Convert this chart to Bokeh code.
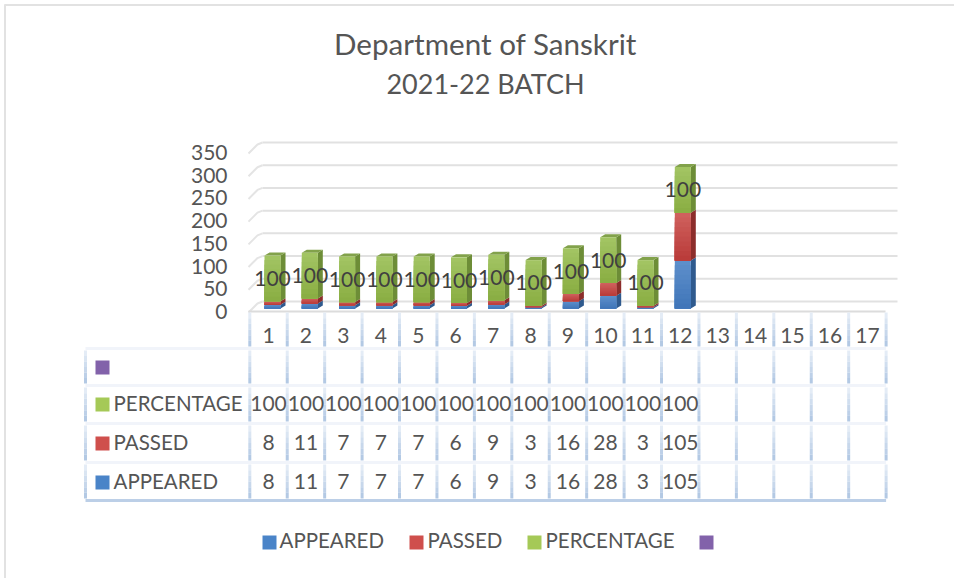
from bokeh.plotting import figure
from bokeh.models import ColumnDataSource
from bokeh.core.properties import value
from bokeh.embed import file_html
from bokeh.resources import INLINE

title_lines = ["Department of Sanskrit", "2021-22 BATCH"]
title_sizes = ["29.6px", "27px"]
categories = list(range(1, 18))
appeared = [8, 11, 7, 7, 7, 6, 9, 3, 16, 28, 3, 105]
passed = [8, 11, 7, 7, 7, 6, 9, 3, 16, 28, 3, 105]
percentage = [100] * 12
y_ticks = [0, 50, 100, 150, 200, 250, 300, 350]
row_names = ["APPEARED", "PASSED", "PERCENTAGE", ""]
legend_names = ["APPEARED", "PASSED", "PERCENTAGE", ""]

# page-pixel geometry of the frame
W, H = 954, 578
X0, Y0 = 272.0, 308.0
DX, DY = 37.3, 0.4565


def X(px):
    return 1 + (px - X0) / DX


def Y(py):
    return (Y0 - py) / DY


p = figure(width=W, height=H, output_backend="svg", toolbar_location=None,
           x_range=(X(0), X(W)), y_range=(Y(H), Y(0)),
           min_border=0, min_border_left=0, min_border_right=0,
           min_border_top=0, min_border_bottom=0,
           x_axis_location=None, y_axis_location=None, outline_line_color=None)
p.grid.visible = False
p.background_fill_color = "white"
p.border_fill_color = "white"

FONT = value("Lato")
TEXT = "#555555"
FS = "21px"
FS_UP = "20.5px"


def seg(xs0, ys0, xs1, ys1, color, width):
    p.segment(xs0, ys0, xs1, ys1, line_color=color, line_width=width)


def lerp(a, b, t):
    ca = [int(a[i:i + 2], 16) for i in (1, 3, 5)]
    cb = [int(b[i:i + 2], 16) for i in (1, 3, 5)]
    return "#%02x%02x%02x" % tuple(round(u + (v - u) * t) for u, v in zip(ca, cb))


# chart border (top and left only are visible in the reference)
seg([X(4)], [Y(4.5)], [X(954)], [Y(4.5)], "#e2e2e2", 2)
seg([X(4.5)], [Y(4)], [X(4.5)], [Y(578)], "#e2e2e2", 2)

# back-plane gridlines with their side-wall diagonals
GS = 0.4543
for t in y_ticks:
    by = 301 - GS * t
    seg([X(262)], [Y(by)], [X(897)], [Y(by)], "#e1e1e1", 2)
    p.line([X(248), X(253), X(257), X(262)],
           [Y(by + 11), Y(by + 6), Y(by + 2), Y(by)], line_color="#e4e4e4", line_width=2)

# floor edge
seg([X(248)], [Y(311)], [X(885)], [Y(311)], "#dcdcdc", 2)

# bars
BW = 16.0
SD, SU = 5.0, 3.0
ramps = [("#5f90cc", "#3f75b8", "#2f5a8e", "#3f6ca5"),
         ("#d0625f", "#b93a38", "#8c2d2b", "#a83e3c"),
         ("#a3c564", "#89ad42", "#6d8d37", "#82a24b")]
N = 10
q = dict(l=[], r=[], t=[], b=[], c=[])
for i, vals in enumerate(zip(appeared, passed, percentage)):
    cx = i + 1
    hw = BW / 2 / DX
    base = 0
    for v, (top, bot, side, cap) in zip(vals, ramps):
        for k in range(N):
            q["l"].append(cx - hw)
            q["r"].append(cx + hw)
            q["t"].append(base + v * (1 - k / N))
            q["b"].append(base)
            q["c"].append(lerp(top, bot, (k + .5) / N))
        dx, dy = SD / DX, SU / DY
        p.patch([cx + hw, cx + hw + dx, cx + hw + dx, cx + hw],
                [base, base + dy, base + v + dy, base + v], fill_color=side, line_color=None)
        base += v
    dx, dy = SD / DX, SU / DY
    p.patch([cx - hw, cx - hw + dx, cx + hw + dx, cx + hw],
            [base, base + dy, base + dy, base], fill_color=ramps[2][3], line_color=None)
p.quad(left="l", right="r", top="t", bottom="b", fill_color="c", line_color=None,
       source=ColumnDataSource(q))

# data labels
lab_y = [a + b + c / 2 for a, b, c in zip(appeared, passed, percentage)]
p.text([i + 1 for i in range(12)], lab_y, text=[str(v) for v in percentage],
       text_font=FONT, text_font_size=FS, text_color="#404040",
       text_align="center", text_baseline="middle")

# value axis labels
p.text([X(227)] * len(y_ticks), [Y(311 - GS * t) for t in y_ticks], text=[str(t) for t in y_ticks],
       text_font=FONT, text_font_size=FS, text_color=TEXT, text_align="right", text_baseline="middle")

# data table
LEFT, STEP = 249.3, 37.43
rows = [348, 385, 423, 462, 500]
vx = [LEFT + STEP * k for k in range(len(categories) + 1)]


def grad_v(px, y0, y1, c0, c1, n=6):
    for k in range(n):
        seg([X(px)], [Y(y0 + (y1 - y0) * k / n)], [X(px)], [Y(y0 + (y1 - y0) * (k + 1) / n)],
            lerp(c0, c1, (k + .5) / n), 3)


PALE, BLUE = "#e9eff8", "#aec6e2"
for vxp in vx:
    grad_v(vxp, 312, 346, PALE, BLUE)
    for a, b in zip(rows[:-1], rows[1:]):
        grad_v(vxp, a + 2, b - 2, PALE, BLUE)
for a, b in zip(rows[:-1], rows[1:]):
    grad_v(85, a + 2, b - 2, PALE, BLUE)
for r in rows[:-1]:
    seg([X(85)], [Y(r)], [X(vx[-1])], [Y(r)], "#f1f4fa", 3)
seg([X(85)], [Y(rows[-1])], [X(vx[-1])], [Y(rows[-1])], "#bccfe7", 3)

centers = [LEFT + STEP * (c - .5) for c in categories]
p.text([X(c) for c in centers], [Y(335)] * len(centers), text=[str(c) for c in categories],
       text_font=FONT, text_font_size=FS, text_color=TEXT, text_align="center", text_baseline="middle")

row_y = [481, 442, 403, 366]
swatches = ["#4a84c8", "#cf4f4c", "#a5c957", "#8262aa"]
table_rows = [appeared, passed, percentage]
for vals, ry in zip(table_rows, row_y):
    p.text([X(c) for c in centers[:len(vals)]], [Y(ry)] * len(vals), text=[str(v) for v in vals],
           text_font=FONT, text_font_size=FS, text_color=TEXT, text_align="center", text_baseline="middle")


def swatch(px, py, color):
    p.quad(left=[X(px)], right=[X(px + 14)], top=[Y(py - 7)], bottom=[Y(py + 7)],
           fill_color=color, line_color=None)


for name, ry, col in zip(row_names, row_y, swatches):
    swatch(95, ry + 1 if ry != 366 else 367, col)
    if name:
        p.text([X(113)], [Y(ry - 1)], text=[name], text_font=FONT, text_font_size=FS_UP, text_color=TEXT,
               text_align="left", text_baseline="middle")

# legend
leg_sw = [262, 409, 527, 699]
leg_tx = [279, 427, 545]
for sx, col in zip(leg_sw, swatches):
    swatch(sx, 542, col)
for tx, name in zip(leg_tx, legend_names):
    p.text([X(tx)], [Y(539.5)], text=[name], text_font=FONT, text_font_size=FS_UP, text_color=TEXT,
           text_align="left", text_baseline="middle")

# title
for line, ty, fs in zip(title_lines, [43, 83], title_sizes):
    p.text([X(485)], [Y(ty)], text=[line], text_font=FONT, text_font_size=fs, text_color=TEXT,
           text_align="center", text_baseline="middle")

open("out.html", "w").write(file_html(p, INLINE))
